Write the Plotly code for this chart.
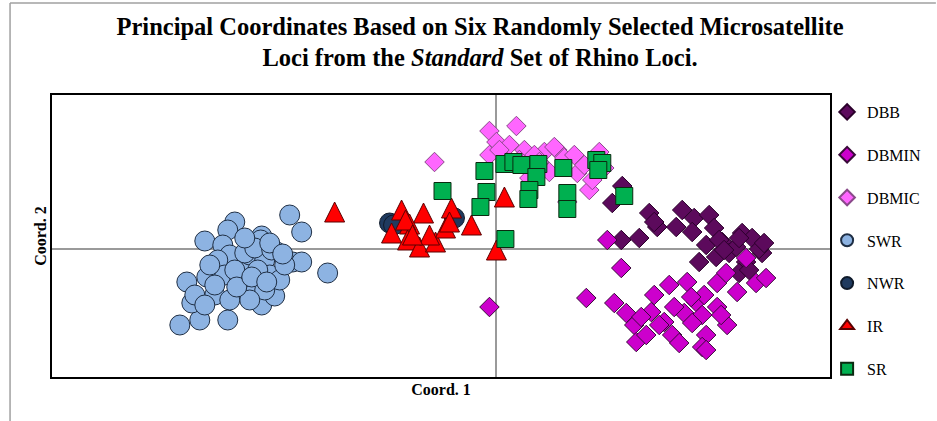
import plotly.graph_objects as go

# Data in chart units (coord1, coord2)
DBB_x = [1.26, 1.16, 1.53, 1.61, 1.43, 1.25, 1.80, 1.86, 1.98, 2.13, 2.18, 1.96, 2.10, 2.26, 2.03,
         2.46, 2.56, 2.66, 2.50, 2.43, 2.33, 2.20, 2.40, 1.58, 2.23, 2.28, 2.63, 2.43, 2.68, 2.53]
DBB_y = [0.63, 0.46, 0.36, 0.22, 0.11, 0.09, 0.22, 0.39, 0.31, 0.34, 0.21, 0.17, 0.04, 0.07, -0.13,
         0.16, 0.11, -0.04, -0.13, -0.24, -0.04, -0.08, 0.02, 0.27, 0.09, -0.01, 0.0, 0.11, 0.06, -0.21]
DBMIN_x = [1.11, 1.25, 0.90, 1.18, 1.30, 1.38, 1.40, 1.50, 1.55, 1.58, 1.73, 1.91, 1.68, 1.63, 1.76,
           1.83, 1.88, 2.00, 2.08, 2.21, 2.30, 2.41, 2.06, 2.21, 2.31, 2.10, 2.06, 1.96, 2.60, 2.70,
           2.50, -0.07, 2.10, 1.45, 1.78, 1.95, 2.25]
DBMIN_y = [0.09, -0.19, -0.49, -0.54, -0.64, -0.76, -0.93, -0.86, -0.63, -0.46, -0.36, -0.33, -0.73, -0.76, -0.86,
           -0.94, -0.64, -0.53, -0.46, -0.34, -0.24, -0.43, -0.66, -0.58, -0.76, -0.86, -0.98, -0.74, -0.34, -0.29,
           -0.09, -0.58, -1.01, -0.68, -0.58, -0.48, -0.66]
DBMIC_x = [-0.62, -0.07, 0.20, 0.00, 0.13, -0.07, 0.28, 0.48, 0.61, 0.68, 0.81, 0.93, 0.71, 0.88, 0.53,
           0.33, 0.38, 1.03, 1.08, 0.78, 0.23, 0.03, 0.96, 0.43, 0.58]
DBMIC_y = [0.87, 1.18, 1.23, 1.07, 1.04, 0.94, 0.99, 0.97, 0.99, 0.91, 0.76, 0.59, 0.47, 0.84, 0.77,
           0.71, 0.94, 0.97, 0.81, 0.94, 0.89, 0.99, 0.69, 0.87, 1.02]
SWR_x = [-3.17, -2.97, -2.69, -3.05, -3.10, -2.90, -2.82, -2.62, -2.69, -2.92, -2.74, -2.35, -2.36, -2.07,
         -1.95, -2.20, -2.04, -1.95, -1.69, -2.52, -2.57, -2.35, -2.22, -2.42, -2.67, -2.47, -2.32, -2.27,
         -2.79, -2.72, -2.57, -2.32, -2.17, -2.12, -2.87, -3.02, -2.47, -2.67, -2.52, -2.42, -2.52, -2.82,
         -2.62, -2.39, -2.25, -2.92, -2.27, -2.14, -2.60, -2.45, -2.30]
SWR_y = [-0.76, -0.71, -0.71, -0.54, -0.33, -0.28, -0.46, 0.27, 0.19, 0.08, 0.04, 0.13, 0.09, 0.34, 0.17,
         -0.03, -0.13, -0.13, -0.24, -0.18, -0.41, -0.56, -0.47, -0.36, -0.06, -0.06, -0.11, -0.26, -0.11, -0.26,
         -0.31, -0.41, -0.31, -0.16, -0.16, -0.46, -0.51, -0.51, -0.04, 0.01, 0.11, -0.36, -0.21, -0.21, -0.01,
         -0.56, 0.06, -0.05, -0.38, -0.28, -0.33]
NWR_x = [-1.07, -1.03, -0.42]
NWR_y = [0.26, 0.24, 0.31]
IR_x = [-1.62, -0.95, -0.73, -0.45, 0.08, -1.05, -0.87, -0.89, -0.77, -0.61, -0.51, -0.67, -0.25, 0.00, -0.91, -0.84, -0.47]
IR_y = [0.37, 0.39, 0.36, 0.41, 0.52, 0.16, 0.25, 0.09, 0.02, 0.07, 0.21, 0.14, 0.24, -0.01, 0.29, 0.14, 0.27]
SR_x = [-0.54, -0.12, -0.10, -0.16, 0.09, 0.08, 0.17, 0.25, 0.42, 0.40, 0.33, 0.32, 0.67, 0.71, 0.71, 1.00, 1.06, 1.02, 1.28]
SR_y = [0.58, 0.78, 0.57, 0.42, 0.10, 0.85, 0.87, 0.84, 0.85, 0.72, 0.59, 0.50, 0.81, 0.56, 0.40, 0.89, 0.86, 0.79, 0.53]

# (name, x, y, plot-marker, legend-symbol, fill, edge)
series = [
    ("DBB", DBB_x, DBB_y, dict(symbol="diamond", size=15), "diamond", "#5c0a5c", "#2a002a"),
    ("DBMIN", DBMIN_x, DBMIN_y, dict(symbol="diamond", size=15), "diamond", "#cc00cc", "#3a0a3a"),
    ("DBMIC", DBMIC_x, DBMIC_y, dict(symbol="diamond", size=15), "diamond", "#ff66ff", "#8a4a8a"),
    ("SWR", SWR_x, SWR_y, dict(symbol="circle", size=20), "circle", "#8db3e2", "#1f2f45"),
    ("NWR", NWR_x, NWR_y, dict(symbol="circle", size=20), "circle", "#1f3a5f", "#0f1a2a"),
    ("IR", IR_x, IR_y, dict(symbol="arrow-down", size=20, angle=180, standoff=10), "triangle-up", "#ff0000", "#5a0000"),
    ("SR", SR_x, SR_y, dict(symbol="square", size=17), "square", "#00b050", "#0a2a10"),
]

fig = go.Figure()
for name, xs, ys, mk, legsym, fill, edge in series:
    fig.add_trace(go.Scatter(
        x=xs, y=ys, mode="markers", name=name, legendgroup=name, showlegend=False,
        marker=dict(color=fill, line=dict(color=edge, width=1), **mk),
    ))
    # legend-only entry (no data drawn) so the legend symbol is centred
    fig.add_trace(go.Scatter(
        x=[None], y=[None], mode="markers", name=name, legendgroup=name, showlegend=True,
        marker=dict(symbol=legsym, size=12, color=fill, line=dict(color=edge, width=1)),
        hoverinfo="skip",
    ))

serif = "Liberation Serif"
fig.update_layout(
    width=937, height=421,
    margin=dict(l=52, r=106, t=95, b=44),
    paper_bgcolor="white", plot_bgcolor="white",
    title=dict(
        text="<b>Principal Coordinates Based on Six Randomly Selected Microsatellite<br>Loci from the <i>Standard</i> Set of Rhino Loci.</b>",
        x=480 / 937, xanchor="center", xref="container", y=0.918, yanchor="top",
        font=dict(family=serif, size=24.5, color="black"),
    ),
    showlegend=True,
    legend=dict(
        x=0.995, xanchor="left", y=1.0, yanchor="top", xref="paper", yref="paper",
        font=dict(family=serif, size=16, color="black"),
        itemsizing="constant", tracegroupgap=19, itemwidth=30,
        bgcolor="rgba(0,0,0,0)", maxheight=420,
    ),
    xaxis=dict(
        range=[-4.45, 3.34], showgrid=False, showticklabels=False, ticks="",
        zeroline=True, zerolinecolor="#9a9a9a", zerolinewidth=1.5,
        showline=True, mirror=True, linecolor="black", linewidth=1.5,
        title=dict(text="<b>Coord. 1</b>", font=dict(family=serif, size=16, color="black"), standoff=6),
    ),
    yaxis=dict(
        range=[-1.28, 1.54], showgrid=False, showticklabels=False, ticks="",
        zeroline=True, zerolinecolor="#9a9a9a", zerolinewidth=1.5,
        showline=True, mirror=True, linecolor="black", linewidth=1.5,
        title=dict(text="<b>Coord. 2</b>", font=dict(family=serif, size=16, color="black"), standoff=0),
    ),
)

# outer light-gray frame lines of the picture (top and left)
def px2paper_x(px):
    return (px - 52) / 779.0
def px2paper_y(py):
    return (377 - py) / 282.0

fig.add_shape(type="line", xref="paper", yref="paper",
              x0=px2paper_x(10), x1=px2paper_x(937), y0=px2paper_y(3), y1=px2paper_y(3),
              line=dict(color="#a0a0a0", width=1.5))
fig.add_shape(type="line", xref="paper", yref="paper",
              x0=px2paper_x(10), x1=px2paper_x(10), y0=px2paper_y(3), y1=px2paper_y(421),
              line=dict(color="#a0a0a0", width=1.5))

fig.write_html("out.html")
